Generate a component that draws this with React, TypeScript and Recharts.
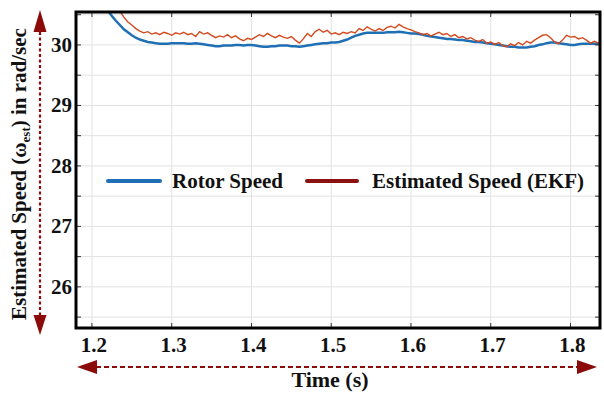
import React from "react";
import { LineChart, Line, XAxis, YAxis, CartesianGrid } from "recharts";

// time (s), 5 ms steps
const time = [
  1.18, 1.185, 1.19, 1.195, 1.2, 1.205, 1.21, 1.215, 1.22, 1.225,
  1.23, 1.235, 1.24, 1.245, 1.25, 1.255, 1.26, 1.265, 1.27, 1.275,
  1.28, 1.285, 1.29, 1.295, 1.3, 1.305, 1.31, 1.315, 1.32, 1.325,
  1.33, 1.335, 1.34, 1.345, 1.35, 1.355, 1.36, 1.365, 1.37, 1.375,
  1.38, 1.385, 1.39, 1.395, 1.4, 1.405, 1.41, 1.415, 1.42, 1.425,
  1.43, 1.435, 1.44, 1.445, 1.45, 1.455, 1.46, 1.465, 1.47, 1.475,
  1.48, 1.485, 1.49, 1.495, 1.5, 1.505, 1.51, 1.515, 1.52, 1.525,
  1.53, 1.535, 1.54, 1.545, 1.55, 1.555, 1.56, 1.565, 1.57, 1.575,
  1.58, 1.585, 1.59, 1.595, 1.6, 1.605, 1.61, 1.615, 1.62, 1.625,
  1.63, 1.635, 1.64, 1.645, 1.65, 1.655, 1.66, 1.665, 1.67, 1.675,
  1.68, 1.685, 1.69, 1.695, 1.7, 1.705, 1.71, 1.715, 1.72, 1.725,
  1.73, 1.735, 1.74, 1.745, 1.75, 1.755, 1.76, 1.765, 1.77, 1.775,
  1.78, 1.785, 1.79, 1.795, 1.8, 1.805, 1.81, 1.815, 1.82, 1.825,
  1.83, 1.835, 1.84,
];

const rotorSpeed = [
  31.7, 31.52, 31.35, 31.19, 31.04, 30.9, 30.78, 30.67, 30.57, 30.48,
  30.4, 30.33, 30.26, 30.21, 30.16, 30.12, 30.09, 30.07, 30.05, 30.04,
  30.03, 30.02, 30.02, 30.02, 30.03, 30.03, 30.03, 30.03, 30.02, 30.02,
  30.03, 30.02, 30.01, 30.0, 29.99, 29.98, 29.98, 29.99, 29.99, 29.99,
  30.0, 30.0, 29.99, 30.0, 30.0, 29.99, 29.98, 29.97, 29.97, 29.98,
  29.98, 29.99, 29.99, 29.99, 29.98, 29.98, 29.97, 29.98, 29.99, 30.0,
  30.01, 30.02, 30.03, 30.03, 30.04, 30.04, 30.05, 30.07, 30.09, 30.12,
  30.15, 30.17, 30.19, 30.2, 30.2, 30.2, 30.2, 30.2, 30.21, 30.21,
  30.21, 30.22, 30.21, 30.2, 30.19, 30.19, 30.18, 30.17, 30.15, 30.14,
  30.13, 30.12, 30.11, 30.1, 30.1, 30.09, 30.08, 30.08, 30.07, 30.06,
  30.05, 30.05, 30.04, 30.03, 30.02, 30.01, 30.0, 29.99, 29.98, 29.97,
  29.97, 29.96, 29.96, 29.96, 29.97, 29.98, 30.0, 30.01, 30.03, 30.04,
  30.04, 30.03, 30.02, 30.01, 30.0, 30.0, 30.01, 30.02, 30.02, 30.02,
  30.02, 30.02, 30.02,
];

const estimatedSpeed = [
  32.2, 32.0, 31.8, 31.6, 31.4, 31.2, 31.05, 30.92, 30.82, 30.72,
  30.64, 30.56, 30.46, 30.38, 30.33, 30.27, 30.23, 30.2, 30.22, 30.18,
  30.2, 30.17, 30.21, 30.19, 30.16, 30.2, 30.18, 30.21, 30.17, 30.19,
  30.14, 30.22, 30.18, 30.2, 30.16, 30.12, 30.15, 30.13, 30.17, 30.12,
  30.15, 30.1, 30.07, 30.11, 30.09, 30.13, 30.17, 30.14, 30.19, 30.15,
  30.12, 30.16, 30.13, 30.11, 30.14, 30.08, 30.03, 30.1, 30.19, 30.14,
  30.22, 30.26, 30.21, 30.24, 30.18, 30.2, 30.17, 30.21, 30.19, 30.22,
  30.2, 30.27, 30.24, 30.3, 30.26, 30.23, 30.27, 30.24, 30.29, 30.31,
  30.28, 30.34, 30.3, 30.27, 30.25, 30.22, 30.2, 30.17, 30.19, 30.15,
  30.18, 30.21, 30.17, 30.19, 30.14, 30.17, 30.12, 30.14, 30.1, 30.12,
  30.08, 30.06, 30.09, 30.03, 30.05, 30.01, 30.04, 29.99, 29.97, 30.02,
  29.99, 30.04, 30.0, 30.06, 30.03, 30.08, 30.12, 30.16, 30.17, 30.12,
  30.05, 30.02, 30.08, 30.16, 30.13, 30.14, 30.1, 30.12, 30.08, 30.03,
  30.06, 30.03, 30.0,
];

const xTicks = [1.2, 1.3, 1.4, 1.5, 1.6, 1.7, 1.8];
const yTicks = [25.5, 26, 26.5, 27, 27.5, 28, 28.5, 29, 29.5, 30, 30.5];

const data = time.map((t, i) => ({ t, rotor: rotorSpeed[i], est: estimatedSpeed[i] }));

// plot box (px)
const PL = 76;
const PR = 600;
const PT = 12;
const PB = 328;

const FONT = '"Liberation Serif", "Times New Roman", serif';
const TXT = { fontFamily: FONT, fontWeight: 700, fill: "#111" };
const ARROW = "#8B0A0A";
const BLUE = "#1F6FB4";
const RED = "#D24A1E";

function YTick(props: any) {
  const { y, payload } = props;
  const v = payload.value;
  return (
    <g>
      <line x1={PL} x2={PL + 5} y1={y} y2={y} stroke="#333" />
      <line x1={PR - 5} x2={PR} y1={y} y2={y} stroke="#333" />
      {Number.isInteger(v) && (
        <text x={72} y={y + 7} textAnchor="end" style={{ ...TXT, fontSize: 21 }}>
          {v}
        </text>
      )}
    </g>
  );
}

function XTick(props: any) {
  const { x, payload } = props;
  return (
    <g>
      <line x1={x} x2={x} y1={PB - 5} y2={PB} stroke="#333" />
      <line x1={x} x2={x} y1={PT} y2={PT + 5} stroke="#333" />
      <text x={x + 2} y={352} textAnchor="middle" style={{ ...TXT, fontSize: 21 }}>
        {payload.value.toFixed(1)}
      </text>
    </g>
  );
}

export default function App() {
  return (
    <div style={{ position: "relative", width: 604, height: 394, background: "#fff" }}>
      <style>{"body{margin:0}"}</style>
      <LineChart width={604} height={394} data={data} margin={{ top: PT, right: 604 - PR, left: PL - 30, bottom: 36 }}>
        <CartesianGrid stroke="#e2e2e2" strokeWidth={1} />
        <XAxis
          dataKey="t"
          type="number"
          domain={[1.18, 1.837]}
          allowDataOverflow
          ticks={xTicks}
          interval={0}
          height={30}
          axisLine={false}
          tickLine={false}
          tick={<XTick />}
        />
        <YAxis
          type="number"
          domain={[25.32, 30.545]}
          allowDataOverflow
          ticks={yTicks}
          interval={0}
          width={30}
          axisLine={false}
          tickLine={false}
          tick={<YTick />}
        />
        <Line dataKey="rotor" stroke={BLUE} strokeWidth={2.5} dot={false} isAnimationActive={false} />
        <Line dataKey="est" stroke={RED} strokeWidth={1.4} dot={false} isAnimationActive={false} />
      </LineChart>

      <svg width={604} height={394} style={{ position: "absolute", left: 0, top: 0, pointerEvents: "none" }}>
        {/* frame */}
        <rect x={PL} y={PT} width={PR - PL} height={PB - PT} fill="none" stroke="#000" strokeWidth={3} />

        {/* legend */}
        <line x1={108} x2={160} y1={181} y2={181} stroke={BLUE} strokeWidth={4} strokeLinecap="round" />
        <text x={172} y={188} style={{ ...TXT, fontSize: 21 }}>Rotor Speed</text>
        <line x1={307} x2={357} y1={181} y2={181} stroke="#8B1010" strokeWidth={4} strokeLinecap="round" />
        <text x={372} y={188} textLength={212} lengthAdjust="spacing" style={{ ...TXT, fontSize: 21 }}>
          Estimated Speed (EKF)
        </text>

        {/* y arrow */}
        <line x1={40} x2={40} y1={32} y2={315} stroke={ARROW} strokeWidth={2.2} strokeDasharray="3 2.5" />
        <polygon points="40,10 33.5,32 46.5,32" fill={ARROW} />
        <polygon points="40,335 33.5,315 46.5,315" fill={ARROW} />

        {/* x arrow */}
        <line x1={96} x2={578} y1={367} y2={367} stroke={ARROW} strokeWidth={2.2} strokeDasharray="5 3" />
        <polygon points="77,367 97,360 97,374" fill={ARROW} />
        <polygon points="597,367 577,360 577,374" fill={ARROW} />

        {/* axis titles */}
        <text transform="translate(26,174) rotate(-90)" textAnchor="middle" style={{ ...TXT, fontSize: 21 }}>
          Estimated Speed (ω<tspan style={{ fontSize: 13 }} dy={4}>est</tspan>
          <tspan dy={-4}>) in rad/sec</tspan>
        </text>
        <text x={330} y={387} textAnchor="middle" style={{ ...TXT, fontSize: 22 }}>
          Time (s)
        </text>
      </svg>
    </div>
  );
}
